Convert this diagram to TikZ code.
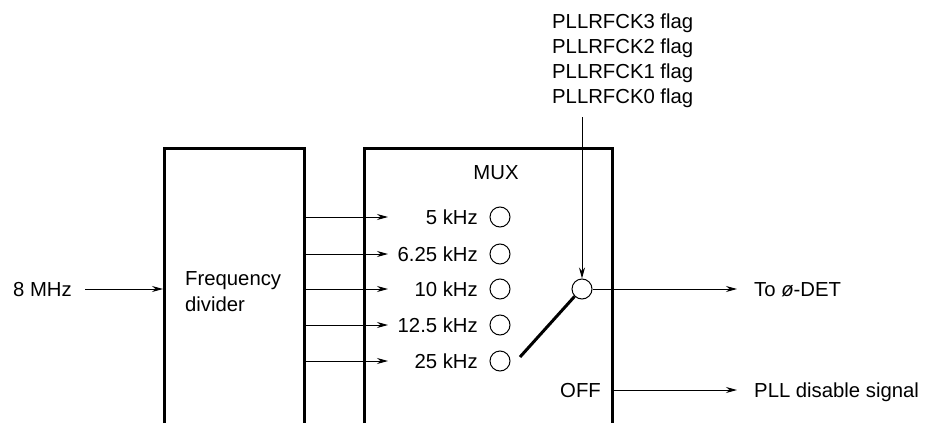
\documentclass[tikz,border=0pt]{standalone}
\usepackage{fontspec}
\setmainfont{Liberation Sans}
\usetikzlibrary{arrows.meta}
\begin{document}
\begin{tikzpicture}[x=1pt,y=-1pt,
  txt/.style={font=\fontsize{20.3}{26}\selectfont, inner sep=0pt},
  lbl/.style={txt, text height=14.5pt, text depth=0pt},
  boxline/.style={line width=3pt},
  sig/.style={line width=1pt, -{Stealth[length=11pt,width=6pt]}},
  port/.style={circle, draw, line width=1pt, minimum size=20pt, inner sep=0pt},
  swarm/.style={line width=3pt}]
\useasboundingbox (0,0) rectangle (926,423);

% frequency divider block (open at the bottom)
\coordinate (fdBL) at (164,423);
\coordinate (fdTL) at (164,148);
\coordinate (fdTR) at (304,148);
\coordinate (fdBR) at (304,423);
\draw[boxline] (fdBL) -- (fdTL) -- (fdTR) -- (fdBR);
\node[txt, anchor=west, align=left] (fd) at (185,292) {Frequency\\divider};

% MUX block (open at the bottom)
\coordinate (mxBL) at (364,423);
\coordinate (mxTL) at (364,148);
\coordinate (mxTR) at (612,148);
\coordinate (mxBR) at (612,423);
\draw[boxline] (mxBL) -- (mxTL) -- (mxTR) -- (mxBR);
\node[lbl] (mux) at (496,172) {MUX};

% 8 MHz input
\node[lbl, anchor=east] (in8) at (72,289) {8 MHz};
\coordinate (fdIn) at (163,289);
\draw[sig] ([xshift=13pt]in8.east) -- (fdIn);

% divided clocks
\foreach \f/\y/\n in {5 kHz/217/a, 6.25 kHz/254/b, 10 kHz/289/c, 12.5 kHz/325/d, 25 kHz/361/e} {
  \node[port] (p\n) at (500,\y) {};
  \node[lbl, anchor=east] (l\n) at (478,\y) {\f};
  \coordinate (o\n) at (304,\y);
  \coordinate (t\n) at (388,\y);
  \draw[sig] (o\n) -- (t\n);
}

% switch
\node[port] (sc) at (582,289) {};
\coordinate (arm) at (520,357);
\draw[swarm] (arm) -- (sc.225);

% flag selection
\node[lbl, anchor=west] (fl3) at (552,21) {PLLRFCK3 flag};
\node[lbl, anchor=west] (fl2) at (552,46) {PLLRFCK2 flag};
\node[lbl, anchor=west] (fl1) at (552,71) {PLLRFCK1 flag};
\node[lbl, anchor=west] (fl0) at (552,96) {PLLRFCK0 flag};
\coordinate (flsrc) at (582,117);
\draw[sig] (flsrc) -- (sc.north);

% outputs
\node[lbl, anchor=west] (det) at (754,289) {To {\itshape ø}-DET};
\draw[sig] (sc.east) -- ([xshift=-17pt]det.west);

\node[lbl, anchor=east] (off) at (601,390) {OFF};
\node[lbl, anchor=west] (dis) at (754,390) {PLL disable signal};
\coordinate (offOut) at (612,390);
\draw[sig] (offOut) -- ([xshift=-17pt]dis.west);
\end{tikzpicture}
\end{document}
